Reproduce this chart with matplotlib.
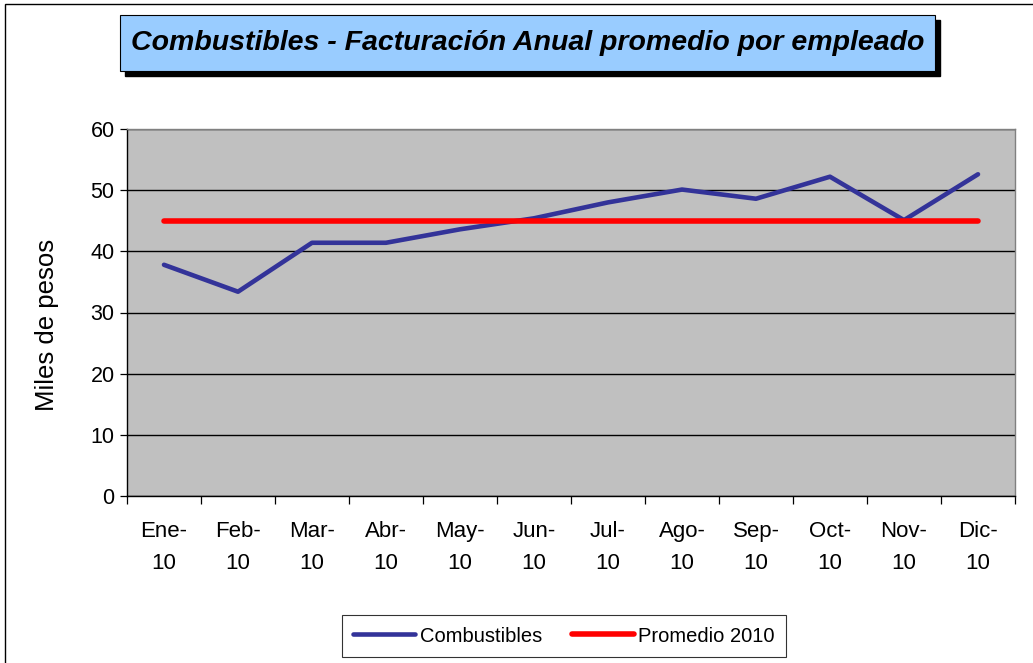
import matplotlib
matplotlib.use("Agg")
import matplotlib.pyplot as plt
from matplotlib.patches import Rectangle

plt.rcParams['font.family'] = ['Liberation Sans', 'DejaVu Sans']

months = ["Ene-\n10", "Feb-\n10", "Mar-\n10", "Abr-\n10", "May-\n10", "Jun-\n10",
          "Jul-\n10", "Ago-\n10", "Sep-\n10", "Oct-\n10", "Nov-\n10", "Dic-\n10"]
combustibles = [37.8, 33.4, 41.4, 41.4, 43.6, 45.4, 48.0, 50.1, 48.6, 52.2, 45.1, 52.6]
promedio_2010 = [45.0] * 12
y_ticks = [0, 10, 20, 30, 40, 50, 60]

W, H = 1033, 663
fig = plt.figure(figsize=(W / 100, H / 100), dpi=100)
fig.patch.set_facecolor("white")

# outer frame
fig.add_artist(Rectangle((5 / W, -0.01), 1.2, 1 - 4 / H + 0.01, transform=fig.transFigure,
                         fill=False, edgecolor="black", linewidth=1.0))

# title box with drop shadow
bx0, by0, bx1, by1 = 120, 15, 935, 71
sh = 5
fig.add_artist(Rectangle(((bx0 + sh) / W, 1 - (by1 + sh) / H), (bx1 - bx0) / W, (by1 - by0) / H,
                         transform=fig.transFigure, facecolor="black", edgecolor="black"))
fig.add_artist(Rectangle((bx0 / W, 1 - by1 / H), (bx1 - bx0) / W, (by1 - by0) / H,
                         transform=fig.transFigure, facecolor="#99CCFF", edgecolor="black",
                         linewidth=0.8))
fig.text((bx0 + bx1) / 2 / W, 1 - (by0 + by1) / 2 / H,
         "Combustibles - Facturación Anual promedio por empleado",
         ha="center", va="center", fontsize=20.5, fontweight="bold", fontstyle="italic")

ax = fig.add_axes([127 / W, 1 - 496 / H, (1015 - 127) / W, (496 - 129) / H])
ax.set_facecolor("#C0C0C0")
x = list(range(len(months)))
ax.plot(x, combustibles, color="#333399", linewidth=3.3, label="Combustibles", zorder=3,
        solid_capstyle="round")
ax.plot(x, promedio_2010, color="#FF0000", linewidth=4.0, label="Promedio 2010", zorder=4,
        solid_capstyle="round")

ax.set_xlim(-0.5, len(months) - 0.5)
ax.set_ylim(0, 60)
ax.set_yticks(y_ticks)
ax.yaxis.grid(True, color="black", linewidth=1.0)
ax.set_axisbelow(True)

ax.set_xticks(x)
ax.set_xticklabels(months, fontsize=16, linespacing=1.7)
ax.set_xticks([i - 0.5 for i in range(len(months) + 1)], minor=True)
ax.tick_params(axis="x", which="major", length=0, pad=18)
ax.tick_params(axis="x", which="minor", length=6, width=0.9, direction="out")
ax.tick_params(axis="y", labelsize=15.5, length=5, width=0.9, direction="out", pad=4)

for side in ("top", "right"):
    ax.spines[side].set_color("#808080")
    ax.spines[side].set_linewidth(1.0)
for side in ("left", "bottom"):
    ax.spines[side].set_color("black")
    ax.spines[side].set_linewidth(1.0)

fig.text(47 / W, 1 - 325 / H, "Miles de pesos", rotation=90, ha="center", va="center",
         fontsize=18.5)

leg = fig.legend(loc="center", bbox_to_anchor=(564 / W, 1 - 636 / H), ncol=2,
                 fontsize=14.5, frameon=True, fancybox=False, edgecolor="black",
                 handlelength=3.1, handletextpad=0.2, columnspacing=1.5,
                 borderpad=0.55)
leg.get_frame().set_linewidth(0.8)

fig.savefig("out.png", dpi=100)
